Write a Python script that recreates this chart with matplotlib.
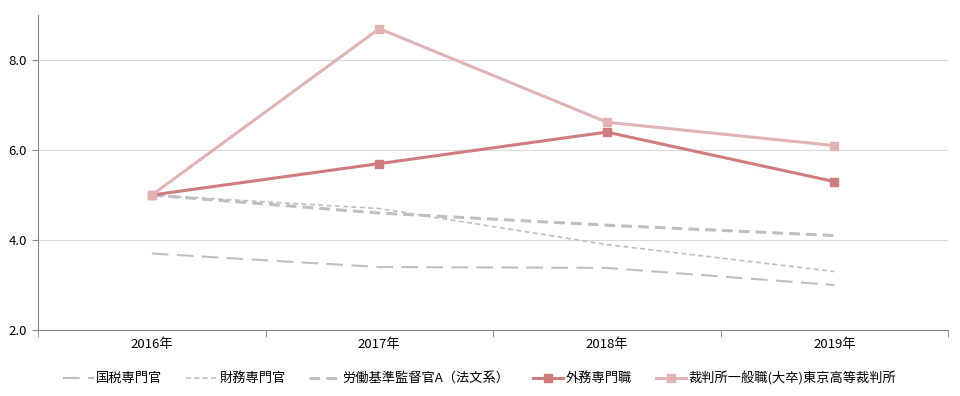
import matplotlib.pyplot as plt
from matplotlib.ticker import FixedLocator, NullFormatter

plt.rcParams["font.family"] = ["Noto Sans CJK JP", "DejaVu Sans"]

# Data
years = ["2016年", "2017年", "2018年", "2019年"]
kokuzei = [3.7, 3.4, 3.38, 3.0]
zaimu = [5.0, 4.7, 3.9, 3.3]
roudou = [5.0, 4.6, 4.33, 4.1]
gaimu = [5.0, 5.7, 6.4, 5.3]
saibansho = [5.0, 8.7, 6.62, 6.1]
labels = ["国税専門官", "財務専門官", "労働基準監督官A（法文系）", "外務専門職", "裁判所一般職(大卒)東京高等裁判所"]

fig = plt.figure(figsize=(9.6, 3.96), dpi=100)
ax = fig.add_axes([0.0396, 0.1667, 0.948, 0.795])
x = list(range(len(years)))

gray = "#BFBFBF"
ax.plot(x, kokuzei, color=gray, lw=1.5, dashes=(8, 4), label=labels[0])
ax.plot(x, zaimu, color=gray, lw=1.2, dashes=(3, 2), label=labels[1])
ax.plot(x, roudou, color=gray, lw=2.2, dashes=(3.5, 2), label=labels[2])
ax.plot(x, gaimu, color="#D07C7C", lw=2.2, marker="s", ms=6, label=labels[3])
ax.plot(x, saibansho, color="#E2B3B3", lw=2.2, marker="s", ms=6, label=labels[4])

ax.set_xlim(-0.5, 3.5)
ax.set_ylim(2.0, 9.0)
ax.set_yticks([2.0, 4.0, 6.0, 8.0])
ax.set_yticklabels(["2.0", "4.0", "6.0", "8.0"], fontsize=9.5)
ax.set_xticks(x)
ax.set_xticklabels(years, fontsize=9.5)
ax.xaxis.set_minor_locator(FixedLocator([-0.5, 0.5, 1.5, 2.5, 3.5]))
ax.xaxis.set_minor_formatter(NullFormatter())
ax.tick_params(axis="x", which="major", length=0, pad=6)
ax.tick_params(axis="x", which="minor", length=5, color="#868686")
ax.tick_params(axis="y", length=4, color="#868686", pad=4)

ax.grid(axis="y", color="#D9D9D9", lw=0.8)
ax.set_axisbelow(True)
for s in ["top", "right"]:
    ax.spines[s].set_visible(False)
ax.spines["left"].set_color("#868686")
ax.spines["bottom"].set_color("#868686")

fig.legend(loc="center", bbox_to_anchor=(0.5, 0.045), ncol=5, frameon=False,
           fontsize=9.5, handlelength=2.3, columnspacing=1.8, handletextpad=0.2)

fig.savefig("out.png", dpi=100)
